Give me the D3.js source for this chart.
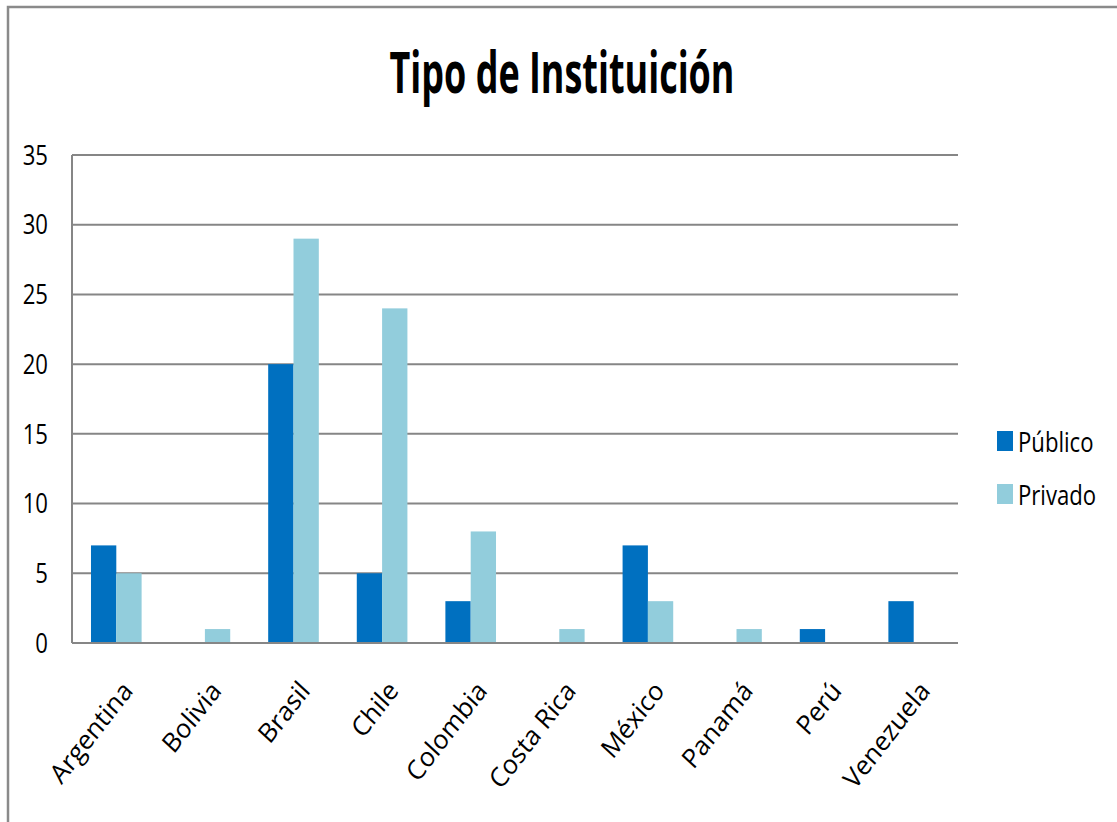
<!DOCTYPE html>
<html>
<head>
<meta charset="utf-8">
<script src="https://cdn.jsdelivr.net/npm/d3@7"></script>
<style>
  html, body { margin: 0; padding: 0; background: #fff; }
  svg { display: block; font-family: "Open Sans", "Noto Sans", sans-serif; }
</style>
</head>
<body>
<svg id="chart" width="1117" height="822"></svg>
<script>
// datos del gráfico
const paises = ['Argentina', 'Bolivia', 'Brasil', 'Chile', 'Colombia', 'Costa Rica', 'México', 'Panamá', 'Perú', 'Venezuela'];
const series = ['Público', 'Privado'];
const publico = [7, 0, 20, 5, 3, 0, 7, 0, 1, 3];
const privado = [5, 1, 29, 24, 8, 1, 3, 1, 0, 0];
const yTicks = [0, 5, 10, 15, 20, 25, 30, 35];
const colores = ['#0070C0', '#92CDDC'];
const titulo = 'Tipo de Instituición';

const svg = d3.select('#chart');
const width = 1117, height = 822;

// marco exterior (solo arriba e izquierda visibles)
svg.append('path')
    .attr('d', `M8,${height} L8,7 L${width},7`)
    .attr('fill', 'none')
    .attr('stroke', '#8a8a8a')
    .attr('stroke-width', 2.5);

// area de trazado
const plot = { left: 72, right: 958, top: 155, bottom: 643 };
const sx = 0.82; // compresión horizontal del texto

const x0 = d3.scaleBand().domain(paises).range([plot.left, plot.right]);
const x1 = d3.scaleBand().domain(series).range([0, x0.bandwidth()]).paddingOuter(0.75);
const y = d3.scaleLinear().domain([0, 35]).range([plot.bottom, plot.top]);

// lineas de cuadricula
svg.append('g')
    .selectAll('line')
    .data(yTicks)
    .enter()
    .append('line')
    .attr('x1', plot.left)
    .attr('x2', plot.right)
    .attr('y1', d => y(d))
    .attr('y2', d => y(d))
    .attr('stroke', '#868686')
    .attr('stroke-width', 2);

// eje vertical
svg.append('line')
    .attr('x1', plot.left).attr('x2', plot.left)
    .attr('y1', plot.top).attr('y2', plot.bottom)
    .attr('stroke', '#868686')
    .attr('stroke-width', 2);

// etiquetas eje Y
svg.append('g')
    .selectAll('text')
    .data(yTicks)
    .enter()
    .append('text')
    .attr('transform', d => `translate(48,${y(d)}) scale(${sx},1)`)
    .attr('text-anchor', 'end')
    .attr('dy', '0.36em')
    .attr('font-size', 27)
    .attr('fill', '#000')
    .text(d => d);

// barras
const filas = paises.map((p, i) => ({ pais: p, valores: [publico[i], privado[i]] }));
const grupos = svg.append('g')
    .selectAll('g')
    .data(filas)
    .enter()
    .append('g')
    .attr('transform', d => `translate(${x0(d.pais)},0)`);

grupos.selectAll('rect')
    .data(d => d.valores.map((v, j) => ({ serie: series[j], valor: v, j: j })))
    .enter()
    .append('rect')
    .attr('x', d => x1(d.serie))
    .attr('width', x1.bandwidth())
    .attr('y', d => y(d.valor))
    .attr('height', d => y(0) - y(d.valor))
    .attr('fill', d => colores[d.j]);

// redibujar linea base encima de las barras
svg.append('line')
    .attr('x1', plot.left).attr('x2', plot.right)
    .attr('y1', y(0)).attr('y2', y(0))
    .attr('stroke', '#868686')
    .attr('stroke-width', 2);

// etiquetas eje X (rotadas)
svg.append('g')
    .selectAll('text')
    .data(paises)
    .enter()
    .append('text')
    .attr('transform', d => `translate(${x0(d) + x0.bandwidth() / 2 + 4},679) scale(0.92,1) rotate(-50)`)
    .attr('text-anchor', 'end')
    .attr('dy', '0.72em')
    .attr('font-size', 27)
    .attr('fill', '#000')
    .text(d => d);

// titulo
const t = svg.append('text')
    .attr('font-size', 58)
    .attr('font-weight', 700)
    .attr('fill', '#000')
    .text(titulo);
const tw = t.node().getComputedTextLength();
const tScale = 345 / tw;
t.attr('transform', `translate(562,93) scale(${tScale},1)`)
    .attr('text-anchor', 'middle');

// leyenda
const leyenda = svg.append('g')
    .selectAll('g')
    .data(series)
    .enter()
    .append('g')
    .attr('transform', (d, i) => `translate(997,${441 + i * 53})`);

leyenda.append('rect')
    .attr('x', 0)
    .attr('y', -10)
    .attr('width', 16)
    .attr('height', 20)
    .attr('fill', (d, i) => colores[i]);

leyenda.append('text')
    .attr('transform', `translate(21,1) scale(${sx},1)`)
    .attr('dy', '0.36em')
    .attr('font-size', 27)
    .attr('fill', '#000')
    .text(d => d);
</script>
</body>
</html>
